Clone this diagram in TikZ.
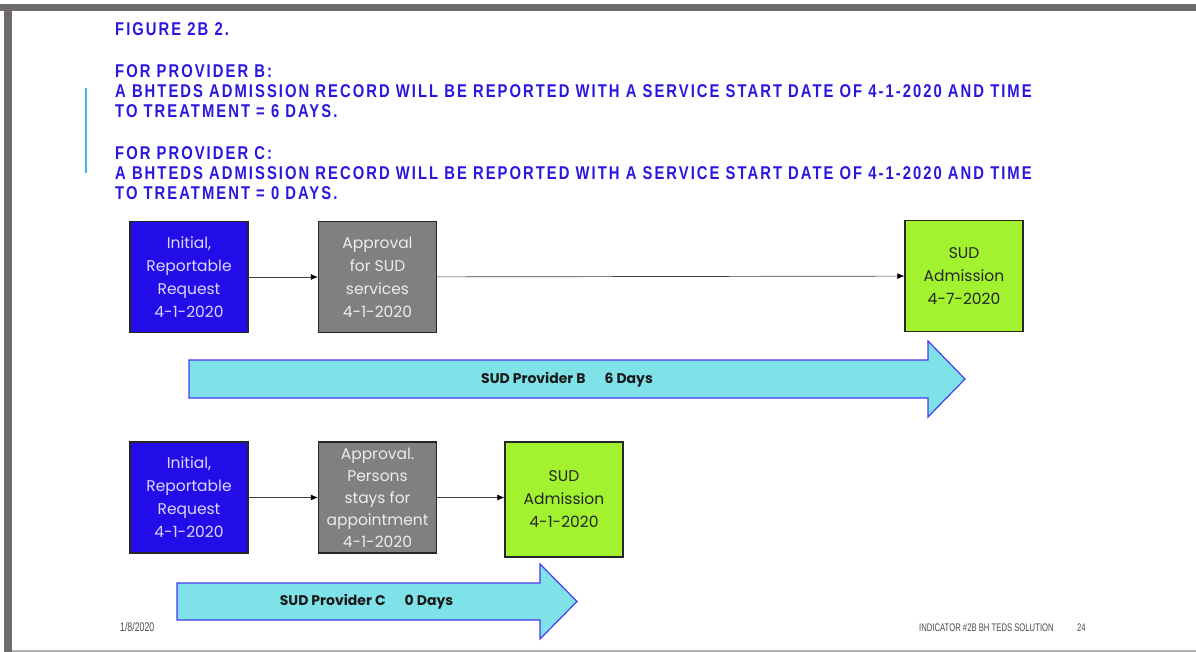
\documentclass[tikz,border=0pt]{standalone}
\usepackage{fontspec}
\setmainfont{Poppins}
\newfontfamily\headfont[FakeStretch=0.8,LetterSpace=11]{Liberation Sans}
\newfontfamily\footfont[FakeStretch=0.7]{Liberation Sans}
\usetikzlibrary{arrows.meta}
\definecolor{headblue}{RGB}{43,22,224}
\definecolor{boxblue}{RGB}{34,12,232}
\definecolor{boxgray}{RGB}{128,128,128}
\definecolor{boxgreen}{RGB}{162,242,48}
\definecolor{arrowcyan}{RGB}{126,226,232}
\definecolor{arrowedge}{RGB}{70,60,240}
\definecolor{framegray}{RGB}{112,107,107}
\definecolor{linecyan}{RGB}{60,185,230}
\definecolor{bluetext}{RGB}{220,214,255}
\definecolor{graytext}{RGB}{236,236,236}
\begin{document}
\begin{tikzpicture}[x=1pt,y=-1pt,
  head/.style={anchor=base west,inner sep=0,text=headblue,font=\headfont\bfseries\fontsize{18.5}{22}\selectfont},
  stepbox/.style={draw=black!85,line width=1.3pt,minimum width=118pt,minimum height=111pt,align=center,inner sep=1pt,font=\fontsize{15.5}{23}\selectfont},
  bluebox/.style={stepbox,fill=boxblue,text=bluetext},
  graybox/.style={stepbox,fill=boxgray,text=graytext},
  greenbox/.style={stepbox,fill=boxgreen,text=black!85},
  link/.style={draw=black!75,line width=0.7pt,-{Latex[length=7pt,width=6pt,fill=black,color=black]}},
  bigarrow/.style={draw=arrowedge,line width=1.2pt,fill=arrowcyan,line join=miter},
  arrowlabel/.style={inner sep=0,font=\bfseries\fontsize{14}{16}\selectfont,text=black!90},
  foot/.style={anchor=base west,inner sep=0,text=black!70,font=\footfont\fontsize{11}{12}\selectfont}]
\useasboundingbox (0,0) rectangle (1196,652);
% frame
\fill[framegray] (0,4) rectangle (1196,11.5);
\fill[framegray] (4,4) rectangle (12,652);
\draw[black!30,line width=1.5pt] (12,651) -- (1196,651);
\draw[linecyan,line width=1.6pt] (86,88) -- (86,173);
% header
\node[head] (h1) at (115,36) {FIGURE 2B 2.};
\node[head] (h2) at (115,78) {FOR PROVIDER B:};
\node[head] (h3) at (115,98) {A BHTEDS ADMISSION RECORD WILL BE REPORTED WITH A SERVICE START DATE OF 4-1-2020 AND TIME};
\node[head] (h4) at (115,118) {TO TREATMENT = 6 DAYS.};
\node[head] (h5) at (115,160) {FOR PROVIDER C:};
\node[head] (h6) at (115,180) {A BHTEDS ADMISSION RECORD WILL BE REPORTED WITH A SERVICE START DATE OF 4-1-2020 AND TIME};
\node[head] (h7) at (115,200) {TO TREATMENT = 0 DAYS.};
% top row
\node[bluebox] (b1) at (189,277) {Initial,\\Reportable\\Request\\4-1-2020};
\node[graybox] (b2) at (377.5,277) {Approval\\for SUD\\services\\4-1-2020};
\node[greenbox] (b3) at (964,276) {SUD\\Admission\\4-7-2020};
\draw[link] (b1) -- (b2);
\draw[link] (b2) -- (b3);
\draw[bigarrow] (189,360) -- (928,360) -- (928,341) -- (965,379) -- (928,417) -- (928,398) -- (189,398) -- cycle;
\node[arrowlabel] (lb) at (567,380) {SUD Provider B\hspace{19pt}6 Days};
% bottom row
\node[bluebox] (c1) at (189,497.5) {Initial,\\Reportable\\Request\\4-1-2020};
\node[graybox,font=\fontsize{15.5}{22}\selectfont,inner sep=0pt] (c2) at (377.5,497.5) {Approval.\\Persons\\stays for\\appointment\\4-1-2020};
\node[greenbox,minimum height=115pt] (c3) at (564,499.5) {SUD\\Admission\\4-1-2020};
\draw[link] (c1) -- (c2);
\draw[link] (c2.east |- c1.east) -- (c3.west |- c1.east);
\draw[bigarrow] (177,583) -- (540,583) -- (540,564) -- (577,601.5) -- (540,639) -- (540,620) -- (177,620) -- cycle;
\node[arrowlabel] (lc) at (366.5,602) {SUD Provider C\hspace{19pt}0 Days};
% footer
\node[foot,font=\footfont\fontsize{12.5}{13}\selectfont] (f1) at (120,631) {1/8/2020};
\node[foot] (f2) at (919,631) {INDICATOR \#2B BH TEDS SOLUTION};
\node[foot] (f3) at (1077,631) {24};
\end{tikzpicture}
\end{document}
